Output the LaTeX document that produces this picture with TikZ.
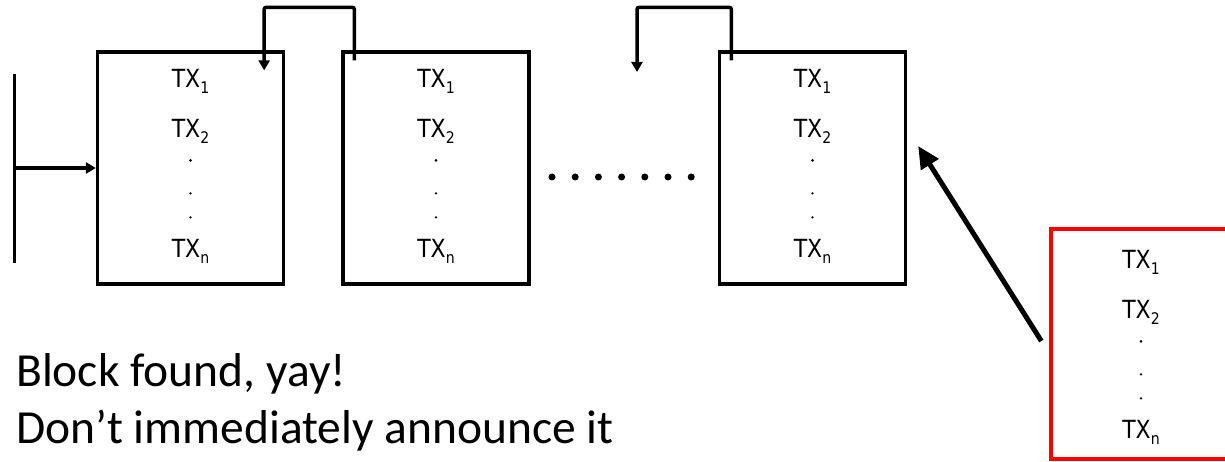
\documentclass[tikz,border=0pt]{standalone}
\usepackage{fontspec}
\setmainfont{Carlito}
\newfontfamily\txfont[FakeStretch=0.88]{DejaVu Sans}
\usetikzlibrary{arrows.meta,positioning,calc}

\tikzset{
  blockbox/.style={draw, line width=3.3pt, minimum width=186pt, minimum height=232pt, inner sep=0pt},
  candbox/.style={blockbox, draw=red, fill=white, minimum width=180pt, minimum height=230pt},
  txlabel/.style={font=\txfont\fontsize{25}{30}\selectfont, anchor=base, inner sep=0pt},
  link/.style={-{Triangle[length=10pt,width=11pt]}, line width=3.5pt, rounded corners=2pt},
  note/.style={font=\fontsize{47.5}{57}\selectfont, anchor=base west, inner sep=0pt}
}

\newcommand{\txsub}[1]{\raisebox{-6pt}{\fontsize{16}{16}\selectfont #1}}
% transactions listed inside a block
\newcommand{\txstack}[2][0pt]{%
  \node[txlabel] (#2-tx1) at ([yshift={-37pt-#1}]#2.north) {TX\txsub{1}};
  \node[txlabel] (#2-tx2) at ([yshift={-87pt-#1}]#2.north) {TX\txsub{2}};
  \fill ([yshift={-110pt-#1}]#2.north) circle (1.5);
  \fill ([yshift={-143pt-#1}]#2.north) circle (1.3);
  \fill ([yshift={-167pt-#1}]#2.north) circle (1.3);
  \node[txlabel] (#2-txn) at ([yshift={-207pt-#1}]#2.north) {TX\txsub{n}};
}

\begin{document}
\begin{tikzpicture}[x=1pt, y=-1pt]
  \useasboundingbox (0,0) rectangle (1225,462);
  % chain of blocks
  \node[blockbox] (blk1) at (190.5,168) {};
  \node[blockbox] (blk2) at (436,168) {};
  \node[blockbox] (blk3) at (812.5,168) {};
  \txstack{blk1}
  \txstack{blk2}
  \txstack{blk3}
  % newly found block
  \node[candbox] (found) at (1141,344) {};
  \txstack[4pt]{found}
  % start of the chain
  \coordinate (bartop) at (14,74);
  \coordinate (barbot) at (14,263);
  \draw[line width=3pt] (bartop) -- (barbot);
  \draw[link] (barbot |- blk1.west) -- (blk1.west);
  % back links
  \draw[link] ([xshift=13pt,yshift=-10pt]blk2.north west) -- ++(0,-53) -| ([xshift=-21pt,yshift=-20pt]blk1.north east);
  \coordinate (gap) at (637,72);
  \draw[link] ([xshift=13.5pt,yshift=-10pt]blk3.north west) -- ++(0,-53) -| (gap);
  % ellipsis
  \foreach \k in {0,...,6}
    \fill (552+23.2*\k,177) circle (3.5);
  % held back
  \draw[-{Triangle[length=22pt,width=20pt]}, line width=5pt] ([xshift=-8pt,yshift=3pt]found.west) -- ([xshift=11pt,yshift=22pt]blk3.east);
  % caption
  \node[note] (yay) at (16,386) {Block found, yay!};
  \node[note] (hold) at (16,443) {Don’t immediately announce it};
\end{tikzpicture}
\end{document}
